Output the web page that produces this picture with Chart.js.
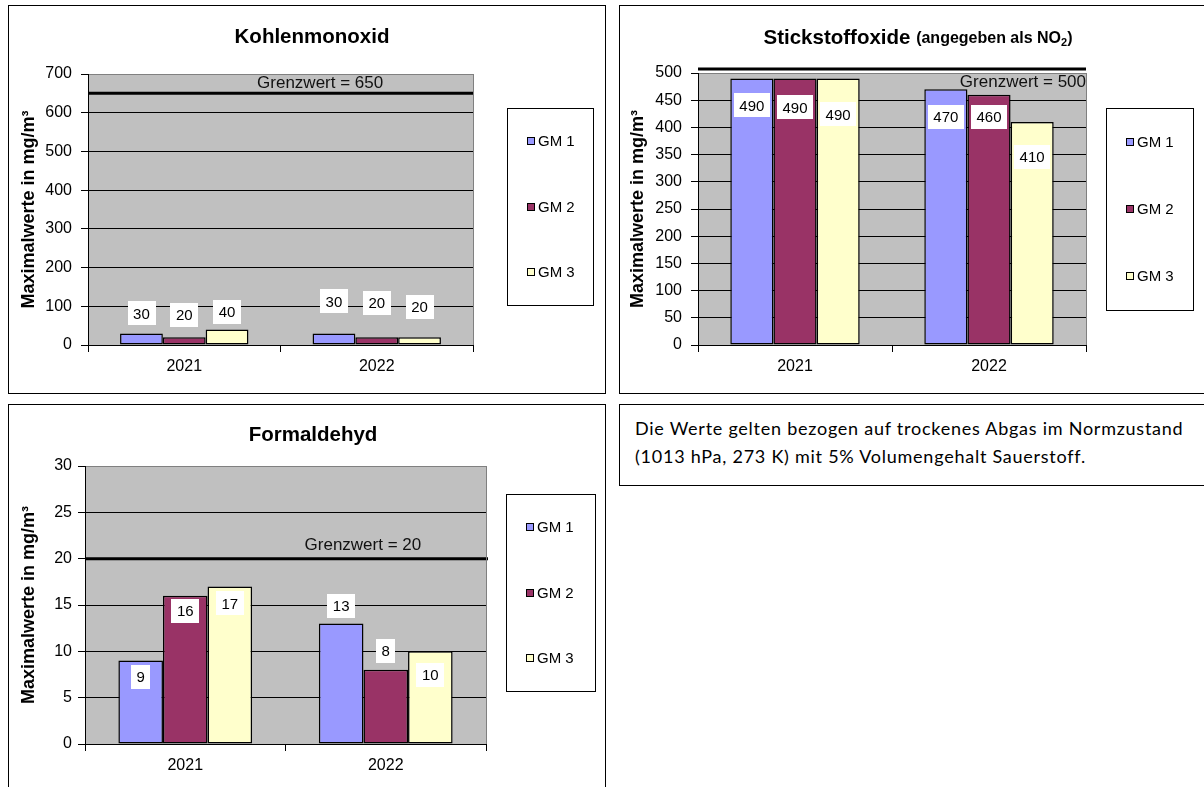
<!DOCTYPE html>
<html>
<head>
<meta charset="utf-8">
<script src="https://cdn.jsdelivr.net/npm/chart.js"></script>
<style>
body { margin: 0; background: #fff; width: 1204px; height: 787px; overflow: hidden; position: relative; }
.frame { position: absolute; border: 1px solid #000; box-sizing: border-box; background: #fff; }
.frame canvas { position: absolute; left: 0; top: 0; }
#note { font-family: Lato, sans-serif; font-size: 18px; line-height: 28px; letter-spacing: 0.75px; padding: 9px 0 0 15px; color: #000; }
</style>
</head>
<body>

<div class="frame" style="left:8px;top:5px;width:598px;height:389px"><canvas id="coChart" width="596" height="387"></canvas></div>
<div class="frame" style="left:619px;top:5px;width:600px;height:389px"><canvas id="noxChart" width="598" height="387"></canvas></div>
<div class="frame" style="left:8px;top:404px;width:598px;height:400px"><canvas id="hchoChart" width="596" height="398"></canvas></div>
<div class="frame" id="note" style="left:619px;top:404px;width:600px;height:82px">Die Werte gelten bezogen auf trockenes Abgas im Normzustand<br>(1013 hPa, 273 K) mit 5% Volumengehalt Sauerstoff.</div>

<script>
// data
const years = ['2021', '2022'];
const seriesNames = ['GM 1', 'GM 2', 'GM 3'];

const coGM1 = [30, 30];
const coGM2 = [20, 20];
const coGM3 = [40, 20];
const coLimit = 650;
const coAxis = [0, 700, 100];   // min, max, step

const noxGM1 = [490, 470];
const noxGM2 = [490, 460];
const noxGM3 = [490, 410];
const noxLimit = 500;
const noxAxis = [0, 500, 50];

const hchoGM1 = [9, 13];
const hchoGM2 = [16, 8];
const hchoGM3 = [17, 10];
const hchoLimit = 20;
const hchoAxis = [0, 30, 5];

const seriesColors = ['#9999FF', '#993366', '#FFFFCC'];
const FONT = '"Liberation Sans", Arial, sans-serif';
Chart.defaults.font.family = FONT;
Chart.defaults.color = '#000';

function drawChart(id, series, limit, axis, look) {
    const datasets = series.map((vals, i) => ({
        label: seriesNames[i],
        data: vals,
        backgroundColor: seriesColors[i],
        borderColor: '#000',
        borderWidth: 1.5,
        borderSkipped: false,
        categoryPercentage: 0.667,
        barPercentage: 1
    }));

    const decor = {
        id: 'decor',
        beforeDraw(chart) {
            const a = chart.chartArea, c = chart.ctx;
            c.fillStyle = '#C0C0C0';
            c.fillRect(a.left, a.top, a.right - a.left, a.bottom - a.top);
        },
        afterDatasetsDraw(chart) {
            const a = chart.chartArea, c = chart.ctx;
            // limit line
            const ly = chart.scales.y.getPixelForValue(limit) + look.lineShift;
            c.save();
            c.strokeStyle = '#000';
            c.lineWidth = 3;
            c.beginPath();
            c.moveTo(a.left, ly);
            c.lineTo(a.right + look.lineExtend, ly);
            c.stroke();
            c.font = '17px ' + FONT;
            c.fillStyle = '#111';
            c.textBaseline = 'middle';
            const text = 'Grenzwert = ' + limit;
            if (look.limitAlign === 'right') {
                c.textAlign = 'right';
                c.fillText(text, a.right, ly + look.limitDy);
            } else {
                c.textAlign = 'center';
                c.fillText(text, a.left + (a.right - a.left) * look.limitPos, ly + look.limitDy);
            }
            // value labels
            c.font = '15px ' + FONT;
            c.textAlign = 'center';
            chart.data.datasets.forEach((ds, i) => {
                chart.getDatasetMeta(i).data.forEach((bar, j) => {
                    const t = String(ds.data[j]);
                    const w = c.measureText(t).width + 11;
                    const y = bar.y + look.labelDy[i][j];
                    c.fillStyle = '#fff';
                    c.fillRect(Math.round(bar.x - w / 2), Math.round(y - 12), Math.round(w), 24);
                    c.fillStyle = '#000';
                    c.fillText(t, bar.x, y + 1);
                });
            });
            c.restore();
        },
        afterDraw(chart) {
            const a = chart.chartArea, c = chart.ctx;
            c.save();
            // right border of plot
            c.strokeStyle = '#808080';
            c.lineWidth = 1;
            c.beginPath();
            c.moveTo(Math.round(a.right) + 0.5, a.top);
            c.lineTo(Math.round(a.right) + 0.5, a.bottom);
            c.stroke();
            // title
            let total = 0;
            look.title.forEach(p => { c.font = p.font; total += c.measureText(p.text).width; });
            let x = look.titleX - total / 2;
            c.fillStyle = '#000';
            c.textAlign = 'left';
            c.textBaseline = 'middle';
            look.title.forEach(p => {
                c.font = p.font;
                c.fillText(p.text, x, look.titleY + (p.dy || 0));
                x += c.measureText(p.text).width;
            });
            // legend
            const b = look.legend;
            c.fillStyle = '#fff';
            c.fillRect(b.x, b.y, b.w, b.h);
            c.strokeStyle = '#000';
            c.strokeRect(b.x + 0.5, b.y + 0.5, b.w, b.h);
            c.font = '15px ' + FONT;
            chart.data.datasets.forEach((ds, i) => {
                const iy = Math.round(b.y + b.h * (i + 0.5) / 3);
                c.fillStyle = ds.backgroundColor;
                c.fillRect(b.x + 20, iy - 4, 7, 7);
                c.strokeRect(b.x + 20.5, iy - 3.5, 7, 7);
                c.fillStyle = '#000';
                c.fillText(ds.label, b.x + 31, iy + 1);
            });
            c.restore();
        }
    };

    return new Chart(document.getElementById(id), {
        type: 'bar',
        data: { labels: years, datasets: datasets },
        plugins: [decor],
        options: {
            responsive: false,
            animation: false,
            layout: { padding: { left: 0, top: look.top, right: look.right, bottom: 0 } },
            plugins: { legend: { display: false }, title: { display: false }, tooltip: { enabled: false } },
            scales: {
                x: {
                    offset: true,
                    afterFit: s => { s.height = look.bottom; },
                    grid: { offset: true, drawOnChartArea: false, tickLength: 7, color: '#000' },
                    border: { color: '#000', width: 1 },
                    ticks: { font: { size: 16 }, color: '#000', padding: 5 }
                },
                y: {
                    min: axis[0], max: axis[1],
                    afterFit: s => { s.width = look.left; },
                    grid: {
                        color: c => (c.tick && c.tick.value === axis[1]) ? '#808080' : '#000',
                        tickColor: '#000', tickLength: 7, lineWidth: 1
                    },
                    border: { color: '#000', width: 1 },
                    ticks: { stepSize: axis[2], font: { size: 16 }, color: '#000', padding: look.tickPad },
                    title: {
                        display: true, text: 'Maximalwerte in mg/m³', color: '#000',
                        font: { size: 18, weight: 'bold' }, padding: { top: look.yTitlePad, bottom: 0 }
                    }
                }
            }
        }
    });
}

drawChart('coChart', [coGM1, coGM2, coGM3], coLimit, coAxis, {
    left: 79, right: 132, top: 68, bottom: 48, tickPad: 9, yTitlePad: 9,
    lineShift: 0, lineExtend: 0, limitAlign: 'center', limitPos: 0.603, limitDy: -10,
    labelDy: [[-20, -32], [-22, -34], [-18, -30]],
    title: [{ text: 'Kohlenmonoxid', font: 'bold 20.5px ' + FONT }],
    titleX: 303, titleY: 31,
    legend: { x: 498, y: 102, w: 86, h: 197 }
});

drawChart('noxChart', [noxGM1, noxGM2, noxGM3], noxLimit, noxAxis, {
    left: 78, right: 132, top: 67, bottom: 48, tickPad: 9, yTitlePad: 7,
    lineShift: -4, lineExtend: 0, limitAlign: 'right', limitDy: 13,
    labelDy: [[27, 28], [29, 22], [36, 35]],
    title: [
        { text: 'Stickstoffoxide ', font: 'bold 20.5px ' + FONT },
        { text: '(angegeben als NO', font: 'bold 16px ' + FONT, dy: 1 },
        { text: '2', font: 'bold 11px ' + FONT, dy: 5 },
        { text: ')', font: 'bold 16px ' + FONT, dy: 1 }
    ],
    titleX: 298, titleY: 32,
    legend: { x: 486, y: 102, w: 87, h: 202 }
});

drawChart('hchoChart', [hchoGM1, hchoGM2, hchoGM3], hchoLimit, hchoAxis, {
    left: 76, right: 119, top: 61, bottom: 59, tickPad: 6, yTitlePad: 9,
    lineShift: 0, lineExtend: 2, limitAlign: 'center', limitPos: 0.693, limitDy: -13,
    labelDy: [[16, -18], [15, -19], [17, 24]],
    title: [{ text: 'Formaldehyd', font: 'bold 20.5px ' + FONT }],
    titleX: 304, titleY: 30,
    legend: { x: 497, y: 89, w: 89, h: 197 }
});
</script>
</body>
</html>
